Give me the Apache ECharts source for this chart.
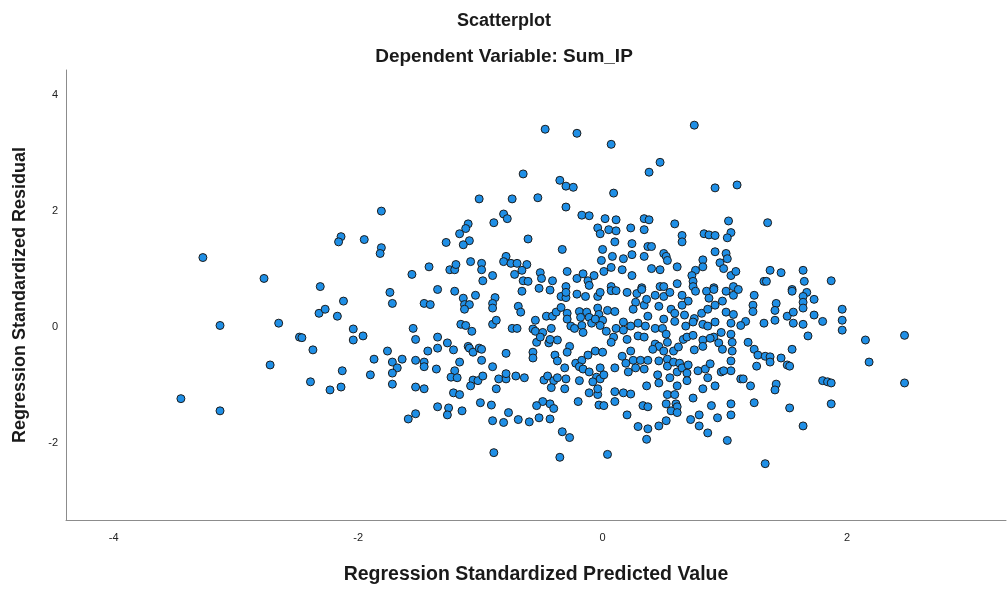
<!DOCTYPE html>
<html>
<head>
<meta charset="utf-8">
<script src="https://cdn.jsdelivr.net/npm/echarts@6/dist/echarts.min.js"></script>
<style>html,body{margin:0;padding:0;background:#fff}#c{width:1008px;height:590px}</style>
</head>
<body>
<div id="c"></div>
<script>
const chartTitle = "Scatterplot";
const chartSubtitle = "Dependent Variable: Sum_IP";
const xName = "Regression Standardized Predicted Value";
const yName = "Regression Standardized Residual";
const xTicks = [-4, -2, 0, 2];
const yTicks = [-2, 0, 2, 4];

// predicted (x) and residual (y), paired by index
const predicted = [
-3.27,-2.77,-2.31,-2.14,-2.16,
-3.13,-2.65,-2.48,-2.46,-2.37,-2.72,-2.39,-2.23,-2.14,-2.13,-3.45,-3.13,-2.12,-2.32,-2.27,-2.17,
-1.81,-1.01,-1.95,-1.81,-1.82,-0.89,-1.10,-1.12,-1.17,-1.28,-1.09,-1.14,-1.42,-1.56,-1.25,-1.21,-1.20,-1.08,-0.99,-0.99,-0.98,-0.90,
-1.74,-1.72,-1.35,-1.21,-1.46,-1.41,-1.14,-1.13,-1.09,-1.13,-1.04,-0.88,-0.90,-0.90,-2.04,-2.04,-1.96,-1.55,-1.53,-1.35,-1.35,-1.27,-1.22,-1.16,-1.12,-1.07,-0.90,-0.87,
-1.76,-1.43,-1.10,-1.09,-1.06,-1.01,-0.99,-1.87,-1.90,-1.72,-1.64,-1.68,-1.72,-1.72,-1.53,-1.46,-1.46,-1.36,-1.17,-0.99,-1.21,-1.24,-1.19,-1.06,-1.08,-1.02,-0.98,-0.90,
-0.85,-0.87,-1.53,-1.46,-1.22,-1.17,-1.00,-0.91,-1.35,-1.26,-1.27,-1.15,-1.53,-1.59,-0.90,-0.89,
-0.47,-0.21,0.07,-0.65,-0.35,-0.30,-0.24,0.09,-0.74,-0.53,-0.30,-0.81,-0.78,-0.17,-0.11,0.02,0.11,-0.04,-0.02,0.05,0.11,-0.61,0.10,-0.33,0.00,
-0.79,-0.81,-0.75,-0.70,-0.62,-0.66,-0.72,-0.65,-0.61,0.08,-0.01,0.07,0.01,-0.51,-0.50,-0.41,-0.29,-0.21,-0.16,-0.12,-0.07,-0.11,-0.30,0.07,-0.52,-0.43,
-0.66,-0.34,-0.30,-0.30,-0.21,-0.14,-0.04,-0.02,0.07,0.11,-0.69,-0.67,-0.55,-0.46,-0.41,-0.38,-0.34,-0.29,-0.29,-0.19,-0.13,-0.18,-0.04,-0.03,-0.11,0.00,0.04,0.10,
-0.74,-0.70,-0.57,-0.55,-0.49,-0.54,-0.51,-0.42,-0.44,-0.37,-0.43,-0.26,-0.23,-0.17,-0.16,-0.09,-0.06,-0.02,0.03,0.09,0.11,0.07,
-0.79,-0.57,-0.57,-0.27,-0.29,-0.39,-0.37,-0.31,-0.22,-0.17,-0.19,-0.16,-0.12,-0.06,0.00,-0.11,-0.02,-0.05,-0.08,-0.02,0.10,
-0.79,-0.79,-0.71,-0.64,-0.48,-0.45,-0.40,-0.37,-0.42,-0.30,-0.31,-0.19,-0.11,-0.04,-0.04,0.01,0.10,-0.20,-0.49,-0.54,-0.43,-0.40,-0.03,0.01,0.10,
-0.77,-0.81,-0.69,-0.60,-0.52,-0.43,-0.33,-0.27,-0.35,0.04,
0.75,0.47,0.38,0.92,1.10,0.34,0.38,0.23,0.34,0.59,0.65,0.65,0.83,0.87,0.92,1.03,1.05,1.02,0.24,0.24,0.17,0.16,0.24,0.37,0.40,0.34,
0.50,0.52,0.53,0.40,0.47,0.61,0.82,0.82,0.76,0.73,0.74,0.74,0.61,0.92,0.96,1.01,1.02,0.99,1.05,1.09,1.07,0.91,0.32,0.47,0.50,
0.20,0.28,0.32,0.43,0.50,0.55,0.65,0.70,0.76,0.85,0.87,0.91,1.01,1.07,1.11,
0.27,0.25,0.34,0.36,0.46,0.56,0.59,0.65,0.67,0.75,0.81,0.86,0.92,0.98,1.01,1.07,
0.17,0.23,0.29,0.37,0.35,0.43,0.50,0.49,0.59,0.52,0.68,0.74,0.82,0.86,0.92,0.97,0.91,1.05,1.05,0.17,
0.20,0.29,0.34,0.43,0.46,0.53,0.58,0.62,0.66,0.69,0.74,0.82,0.82,0.88,0.95,0.98,1.06,1.06,0.75,0.41,0.50,0.23,0.16,
0.19,0.25,0.31,0.21,0.27,0.34,0.37,0.46,0.53,0.45,0.53,0.55,0.58,0.63,0.61,0.65,0.69,0.69,0.70,0.78,0.84,0.88,0.86,0.97,1.05,1.05,0.99,
0.46,0.36,0.61,0.82,0.92,0.17,0.23,0.53,0.59,0.74,1.13,
0.52,0.60,0.61,0.56,0.61,0.33,0.37,0.89,1.05,0.20,0.79,
0.52,0.46,0.72,0.79,0.94,1.05,0.29,0.37,0.36,0.86,1.02,
1.35,1.37,1.46,1.64,1.32,1.34,1.65,1.87,1.55,
1.24,1.55,1.67,1.23,1.23,1.42,1.41,1.64,1.64,1.64,1.73,1.51,1.56,1.17,1.13,1.32,1.41,1.56,1.64,1.73,1.80,1.96,1.96,1.96,1.68,
1.19,1.24,1.27,1.26,1.33,1.37,1.37,1.55,1.46,1.51,1.53,1.15,1.21,1.42,1.41,1.80,1.84,1.87,1.24,1.53,1.87,1.64,1.33,
2.15,2.47,2.18,2.47
];
const residual = [
1.20,0.84,0.70,1.56,1.47,
0.03,0.07,-0.17,-0.18,-0.39,-0.65,-0.94,-1.08,-1.03,-0.75,-1.23,-1.44,0.45,0.24,0.31,0.19,
2.00,2.21,1.51,1.37,1.27,1.80,1.78,1.70,1.61,1.46,1.49,1.42,1.04,0.91,0.99,0.99,1.08,1.13,1.10,0.99,0.80,0.89,
0.60,0.41,0.65,0.62,0.41,0.39,0.50,0.39,0.39,0.31,0.55,0.51,0.41,0.33,-0.03,-0.22,-0.15,-0.02,-0.21,-0.17,-0.36,-0.27,-0.39,0.05,0.03,-0.07,0.05,0.12,
-0.41,-0.41,-0.33,-0.36,-0.43,-0.36,-0.38,-0.55,-0.82,-0.60,-0.55,-0.70,-0.79,-0.98,-0.57,-0.60,-0.68,-0.72,-0.60,-0.57,-0.75,-0.86,-0.87,-0.91,-1.01,-0.92,-0.84,-0.68,
-0.89,-1.06,-1.03,-1.06,-1.13,-1.16,-1.30,-1.34,-1.37,-1.39,-1.51,-1.44,-1.49,-1.58,-1.61,-2.16,
3.41,3.34,3.15,2.64,2.53,2.43,2.41,2.31,2.21,2.23,2.07,1.95,1.87,1.93,1.92,1.87,1.85,1.71,1.61,1.68,1.66,1.52,1.47,1.34,1.34,
1.22,1.13,1.10,1.10,1.08,0.98,0.91,0.80,0.79,1.22,1.15,1.03,0.96,0.94,0.84,0.80,0.96,0.84,0.92,0.80,0.89,0.72,0.70,0.70,0.67,0.64,
0.62,0.53,0.51,0.60,0.57,0.53,0.53,0.60,0.63,0.63,0.36,0.26,0.12,0.19,0.19,0.26,0.34,0.24,0.14,0.27,0.26,0.17,0.33,0.22,0.17,0.12,0.29,0.27,
-0.02,-0.02,-0.03,-0.07,-0.09,-0.26,-0.17,-0.02,-0.27,-0.22,-0.21,0.02,-0.02,0.03,-0.09,0.07,0.14,0.03,-0.07,-0.17,-0.02,-0.26,
-0.45,-0.43,-0.53,-0.33,-0.43,-0.48,-0.58,-0.70,-0.62,-0.57,-0.68,-0.72,-0.48,-0.41,-0.43,-0.77,-0.70,-0.86,-0.94,-0.89,-0.70,
-0.89,-0.80,-0.84,-0.87,-0.91,-0.84,-0.92,-0.87,-1.04,-0.89,-1.06,-0.92,-1.13,-1.16,-1.06,-0.82,-1.11,-1.28,-1.28,-1.35,-1.32,-1.40,-1.34,-1.35,-1.28,
-1.47,-1.64,-1.59,-1.63,-1.56,-1.58,-1.80,-1.90,-2.24,-2.19,
3.48,2.84,2.67,2.40,2.45,1.87,1.85,1.71,1.68,1.78,1.58,1.47,1.61,1.59,1.58,1.83,1.63,1.54,1.44,1.25,1.18,0.99,0.89,1.39,1.39,1.22,
1.27,1.22,1.15,1.01,0.99,1.04,1.16,1.04,0.98,0.89,0.79,0.70,0.75,1.30,1.11,1.27,1.18,1.01,0.89,0.96,0.70,0.68,0.68,0.70,0.70,
0.60,0.58,0.65,0.55,0.53,0.60,0.55,0.45,0.62,0.62,0.50,0.65,0.62,0.55,0.65,
0.43,0.31,0.38,0.48,0.36,0.31,0.24,0.38,0.21,0.15,0.24,0.31,0.38,0.45,0.26,0.22,
0.09,0.02,0.07,0.19,0.02,-0.02,0.14,-0.02,0.10,-0.12,0.02,0.09,0.05,0.02,0.09,-0.09,-0.17,0.07,-0.12,-0.05,
-0.21,-0.15,-0.17,-0.29,-0.33,-0.26,-0.41,-0.34,-0.21,-0.17,-0.14,-0.22,-0.33,-0.19,-0.27,-0.38,-0.26,-0.41,-0.39,-0.38,-0.41,-0.41,-0.50,
-0.62,-0.57,-0.57,-0.77,-0.70,-0.72,-0.57,-0.58,-0.55,-0.82,-0.67,-0.87,-0.60,-0.62,-0.77,-0.70,-0.79,-0.92,-0.65,-0.75,-0.72,-0.63,-0.87,-0.77,-0.75,-0.58,-0.75,
-0.96,-1.01,-1.01,-1.06,-1.01,-1.13,-1.15,-1.16,-1.16,-1.22,-0.89,
-1.32,-1.32,-1.37,-1.44,-1.47,-1.35,-1.37,-1.35,-1.32,-1.51,-1.51,
-1.61,-1.70,-1.59,-1.70,-1.56,-1.51,-1.71,-1.75,-1.93,-1.82,-1.95,
1.80,0.98,0.94,0.98,0.79,0.79,0.79,0.80,0.65,
0.55,0.62,0.60,0.38,0.27,0.41,0.29,0.53,0.43,0.33,0.48,0.19,0.26,0.10,0.03,0.07,0.12,0.07,0.05,0.21,0.10,0.31,0.12,-0.05,-0.15,
-0.26,-0.38,-0.48,-0.67,-0.50,-0.51,-0.60,-0.38,-0.53,-0.65,-0.67,-0.89,-1.01,-0.98,-1.08,-0.92,-0.94,-0.96,-1.30,-1.39,-1.32,-1.70,-2.35,
-0.22,-0.14,-0.60,-0.96
];

const points = predicted.map((x, i) => [x, residual[i]]);
const font = "'Liberation Sans', Arial, sans-serif";
const chart = echarts.init(document.getElementById('c'), null, { renderer: 'canvas' });
chart.setOption({
  animation: false,
  backgroundColor: '#ffffff',
  title: [
    { text: chartTitle, left: 'center', top: 7, textStyle: { fontFamily: font, fontSize: 18, fontWeight: 'bold', color: '#1a1a1a' } },
    { text: chartSubtitle, left: 'center', top: 42, textStyle: { fontFamily: font, fontSize: 19, fontWeight: 'bold', color: '#1a1a1a' } }
  ],
  grid: { left: 66, right: 2, top: 70, bottom: 68, containLabel: false },
  xAxis: {
    type: 'value', min: -4.39, max: 3.30,
    name: xName, nameLocation: 'middle', nameGap: 45,
    nameTextStyle: { fontFamily: font, fontSize: 19.5, fontWeight: 'bold', color: '#1a1a1a' },
    axisLine: { show: true, onZero: false, lineStyle: { color: '#8c8c8c', width: 1 } },
    axisTick: { show: false },
    splitLine: { show: false },
    axisLabel: { customValues: xTicks, fontFamily: font, fontSize: 11, color: '#222', margin: 12 }
  },
  yAxis: {
    type: 'value', min: -3.32, max: 4.43,
    name: yName, nameLocation: 'middle', nameGap: 37,
    nameTextStyle: { fontFamily: font, fontSize: 18, fontWeight: 'bold', color: '#1a1a1a' },
    axisLine: { show: true, onZero: false, lineStyle: { color: '#8c8c8c', width: 1 } },
    axisTick: { show: false },
    splitLine: { show: false },
    axisLabel: { customValues: yTicks, fontFamily: font, fontSize: 11, color: '#222', margin: 8 }
  },
  series: [{
    type: 'scatter',
    data: points,
    symbolSize: 8,
    itemStyle: { color: '#1f8fe6', borderColor: '#1c1c1c', borderWidth: 1, opacity: 1 }
  }]
});
</script>
</body>
</html>
